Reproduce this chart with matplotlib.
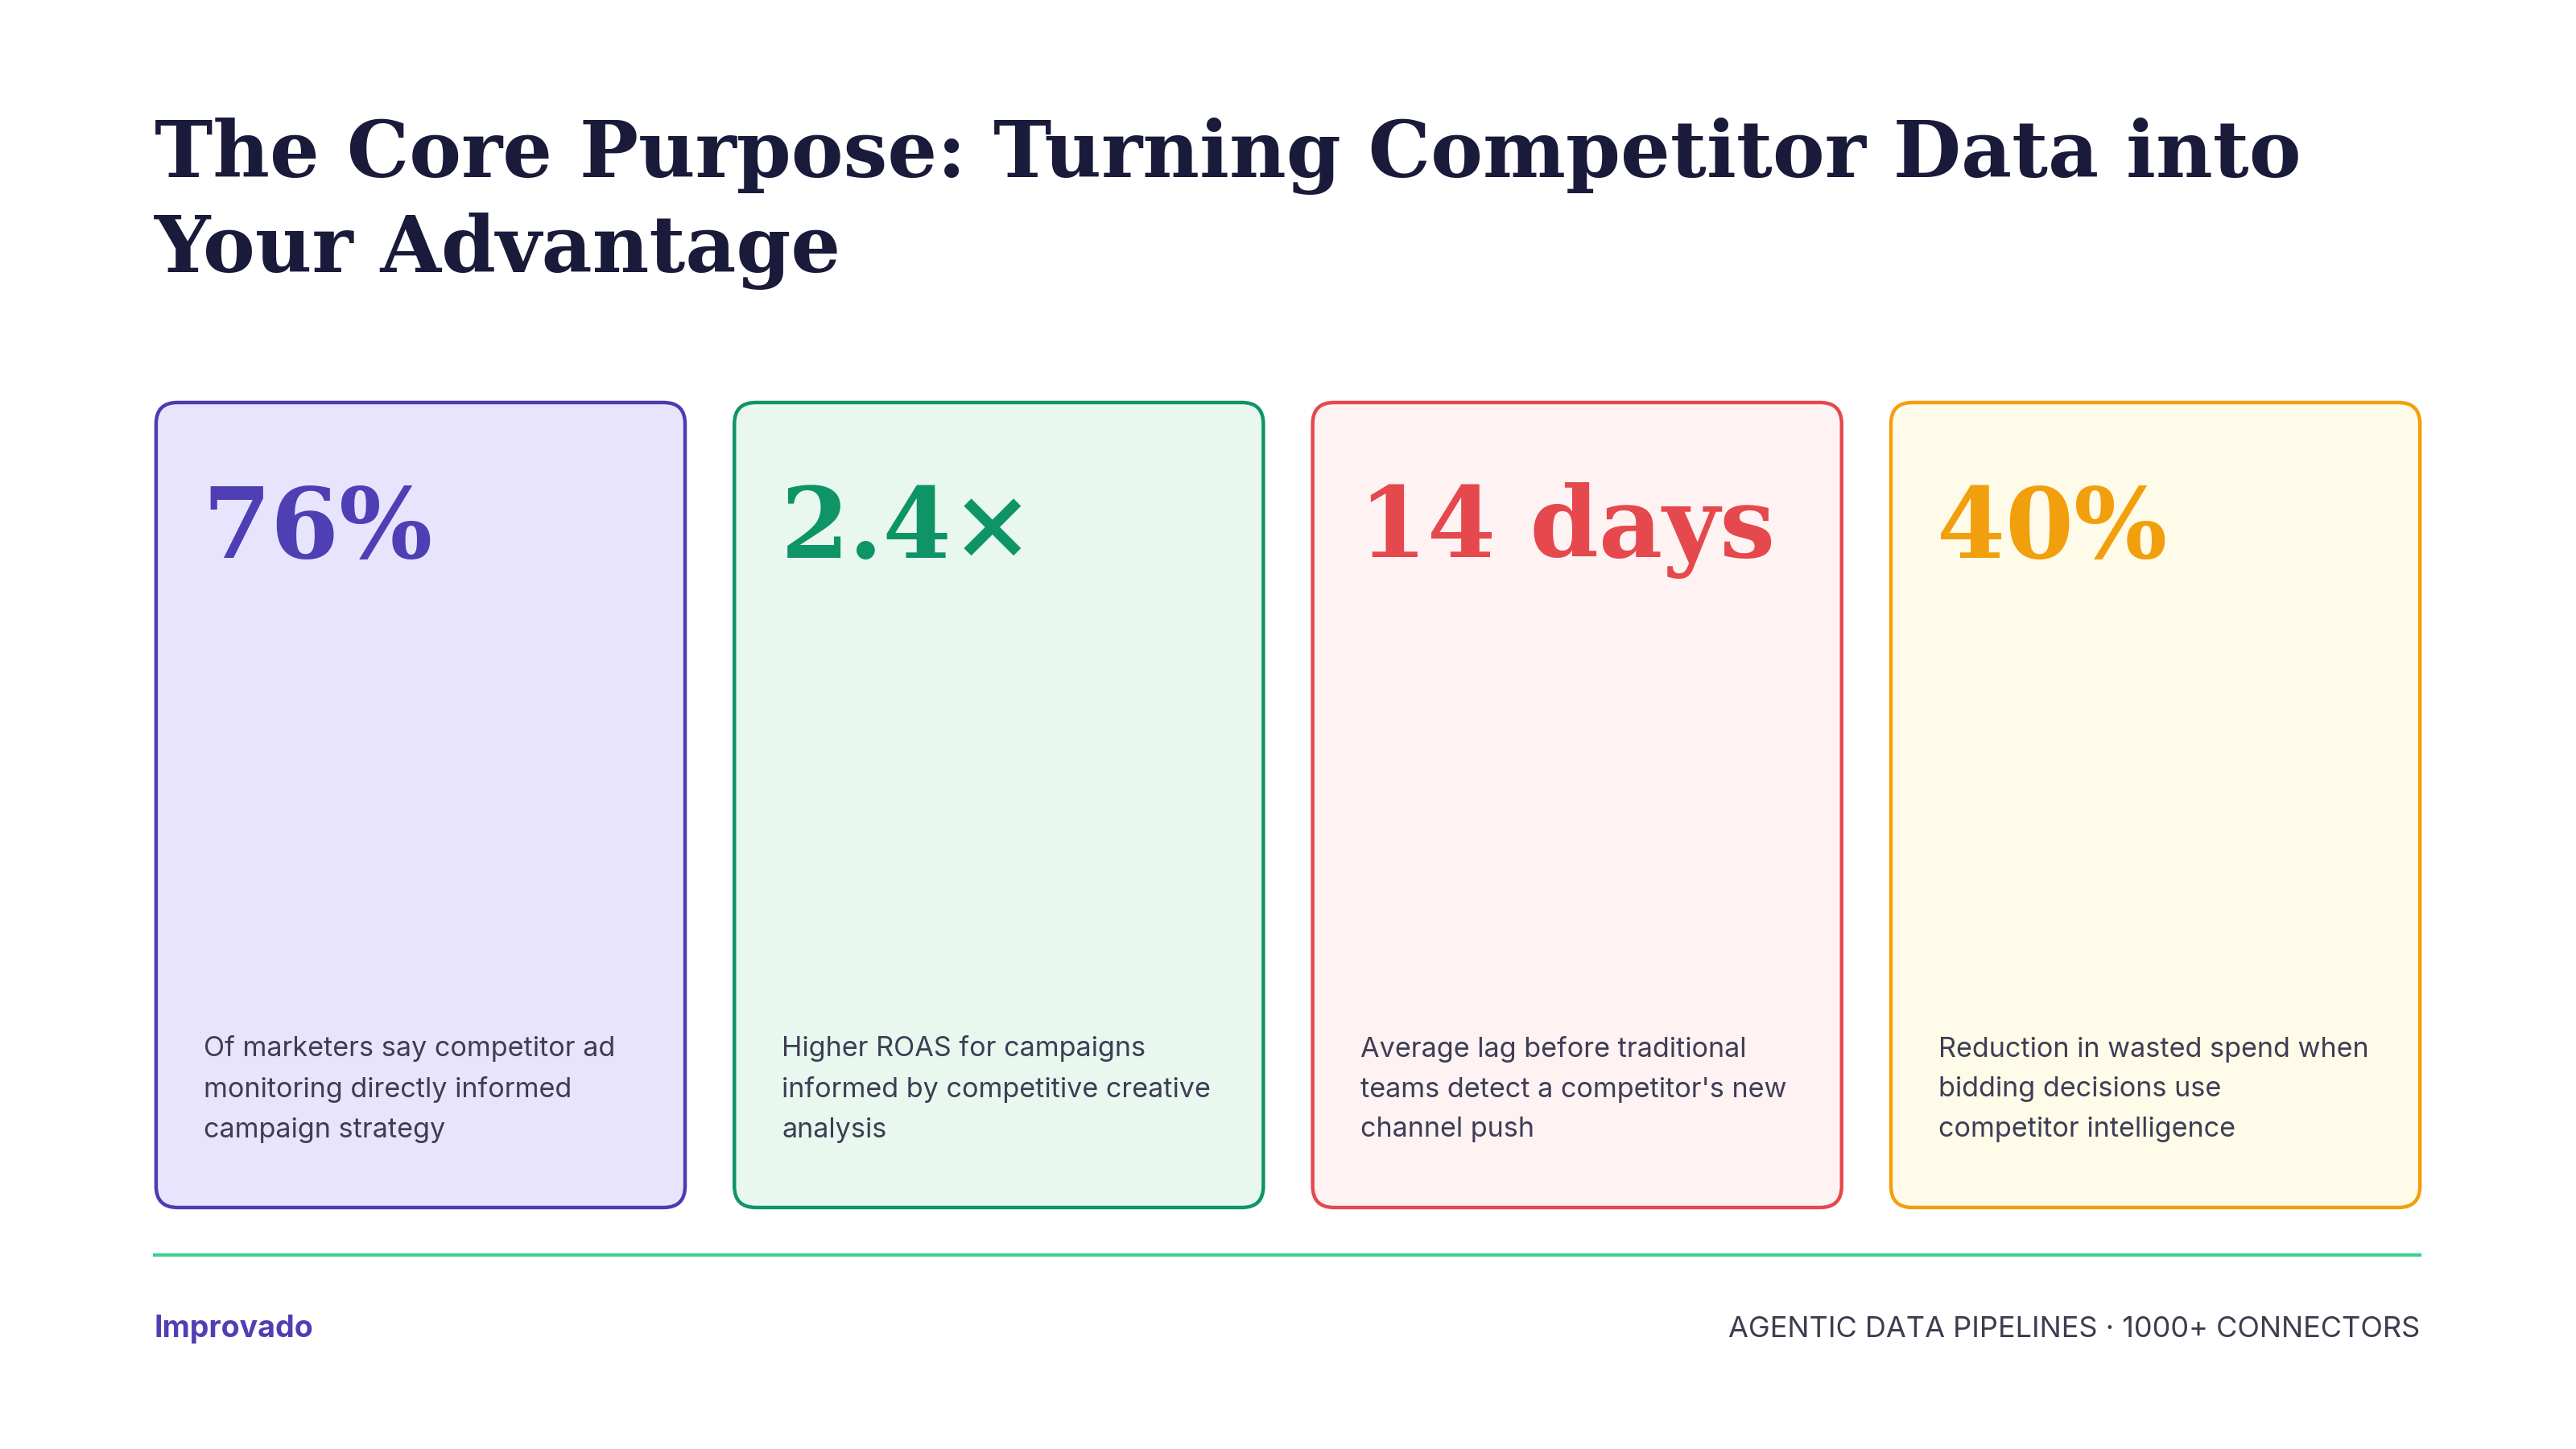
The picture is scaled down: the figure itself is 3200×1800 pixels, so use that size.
import matplotlib
matplotlib.use("Agg")
import matplotlib.pyplot as plt
from matplotlib.patches import FancyBboxPatch

title_lines = ["The Core Purpose: Turning Competitor Data into", "Your Advantage"]
values = ["76%", "2.4×", "14 days", "40%"]
descriptions = [
    "Of marketers say competitor ad\nmonitoring directly informed\ncampaign strategy",
    "Higher ROAS for campaigns\ninformed by competitive creative\nanalysis",
    "Average lag before traditional\nteams detect a competitor's new\nchannel push",
    "Reduction in wasted spend when\nbidding decisions use\ncompetitor intelligence",
]
edge_colors = ["#4a3db0", "#0f9467", "#e5484d", "#f29f0d"]
fill_colors = ["#e9e4fd", "#e8f8ef", "#fef2f2", "#fefbe8"]
value_colors = ["#4f3fb5", "#0e9466", "#e5484d", "#f29f0d"]
footer_left = "Improvado"
footer_right = "AGENTIC DATA PIPELINES · 1000+ CONNECTORS"

W, H = 1568, 882
fig = plt.figure(figsize=(16, 9), dpi=200)
ax = fig.add_axes([0, 0, 1, 1])
ax.set_xlim(0, W); ax.set_ylim(H, 0); ax.axis("off")

serif = ["DejaVu Serif"]
ax.text(94, 95, title_lines[0], fontsize=35, fontweight="bold", family=serif, color="#1a1a3a", va="center")
ax.text(94, 153, title_lines[1], fontsize=35, fontweight="bold", family=serif, color="#1a1a3a", va="center")

lefts = [95, 447, 799, 1151]
cw, top, bottom = 322, 245, 735
for i, x in enumerate(lefts):
    p = FancyBboxPatch((x, top), cw, bottom - top, boxstyle="round,pad=0,rounding_size=13",
                       facecolor=fill_colors[i], edgecolor=edge_colors[i], linewidth=1.6)
    ax.add_patch(p)
    ax.text(x + 28, 323, values[i], fontsize=44, fontweight="bold", family=serif,
            color=value_colors[i], va="center")
    ax.text(x + 29, 663, descriptions[i], fontsize=12.3, family=["Inter", "DejaVu Sans"],
            color="#3d3d55", va="center", linespacing=1.7)

ax.plot([94, 1473], [764, 764], color="#3ccf91", linewidth=1.5)
ax.text(94, 809, footer_left, fontsize=13.5, fontweight="bold", family=["Inter", "DejaVu Sans"],
        color="#4f3fb5", va="center")
ax.text(1473, 809, footer_right, fontsize=13, family=["Inter", "DejaVu Sans"],
        color="#3d3d50", va="center", ha="right")
fig.savefig("out.png", dpi=200, facecolor="white")
